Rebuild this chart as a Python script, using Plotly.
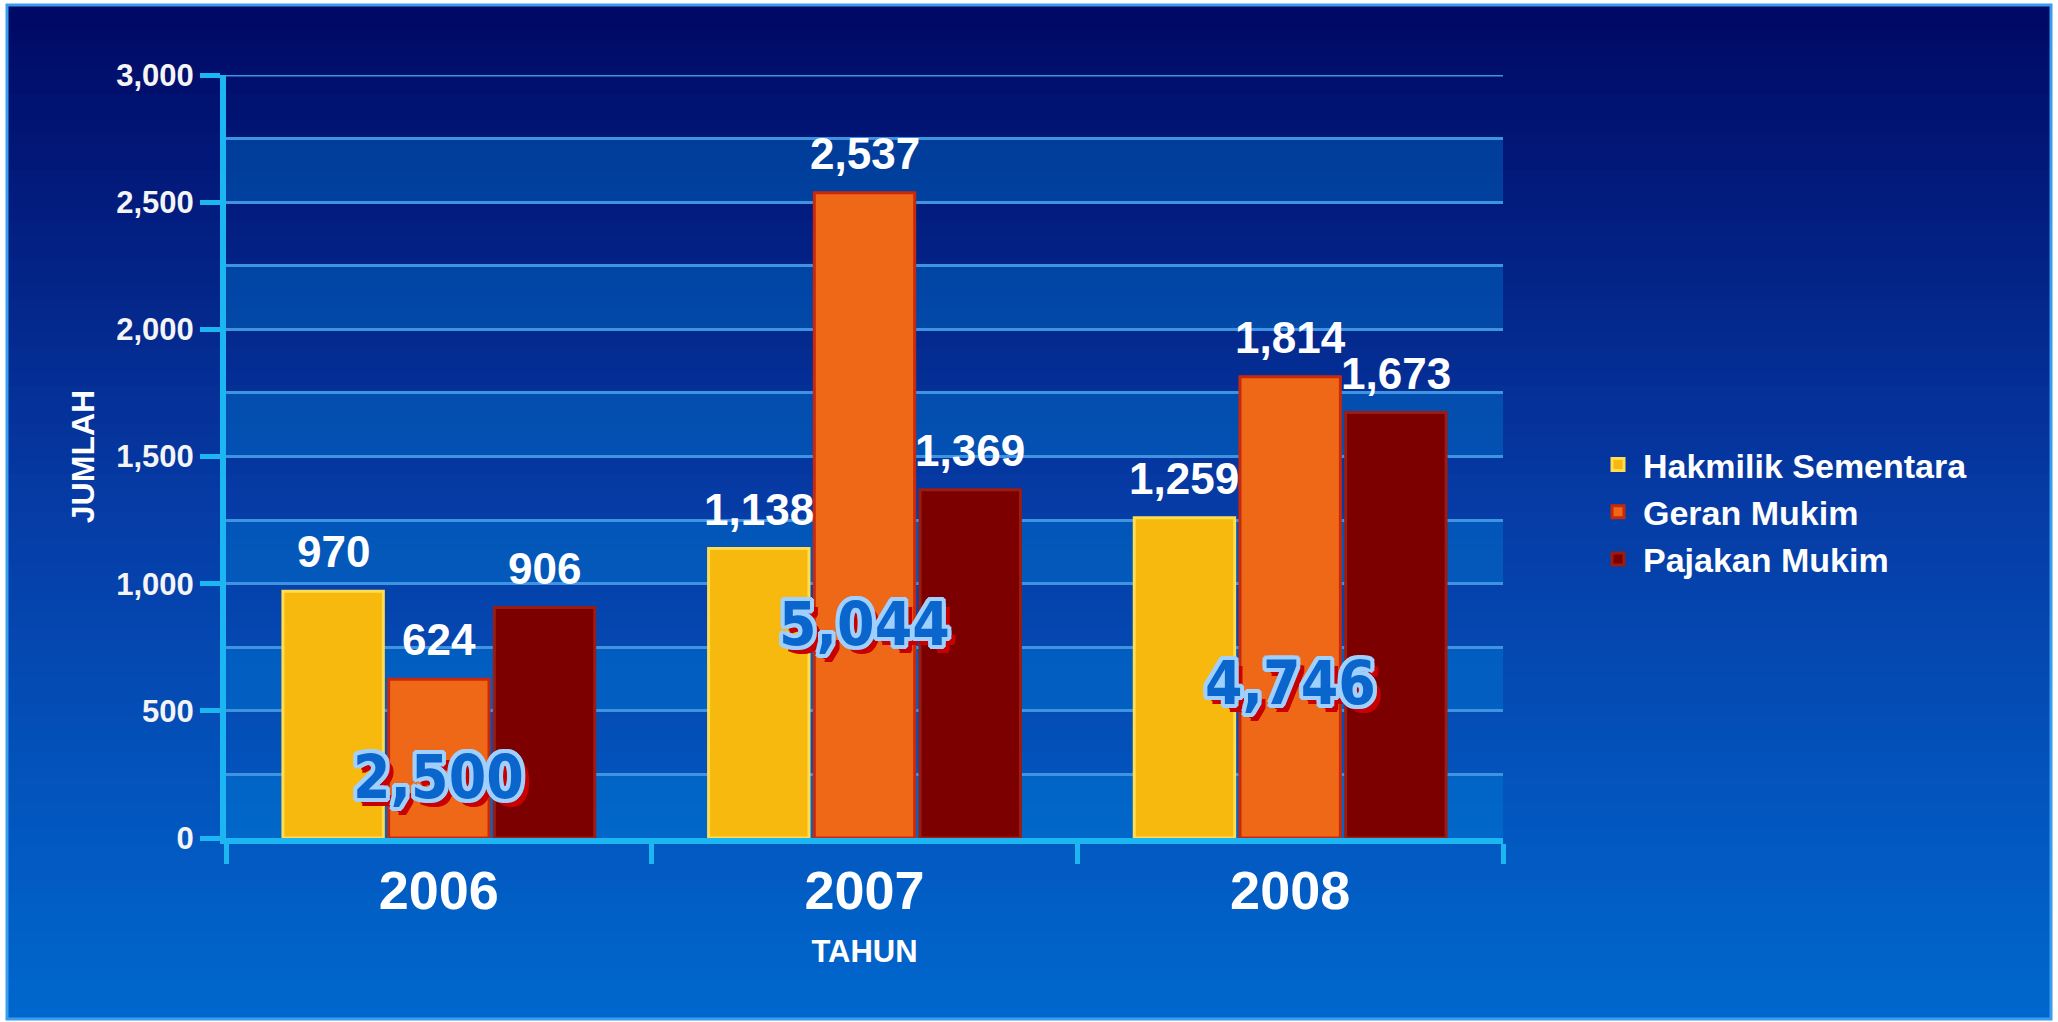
import plotly.graph_objects as go

# ---------------- data ----------------
years = ["2006", "2007", "2008"]
series_names = ["Hakmilik Sementara", "Geran Mukim", "Pajakan Mukim"]
hakmilik_sementara = [970, 1138, 1259]
geran_mukim = [624, 2537, 1814]
pajakan_mukim = [906, 1369, 1673]
y_tick_values = [0, 500, 1000, 1500, 2000, 2500, 3000]
y_axis_title = "JUMLAH"
x_axis_title = "TAHUN"

series_values = [hakmilik_sementara, geran_mukim, pajakan_mukim]
totals = [sum(v) for v in zip(*series_values)]

# ---------------- style / layout ----------------
W, H = 2058, 1022
L, R, T, B = 226, 555, 75, 184
BARGAP, BARGROUPGAP = 0.255, 0.05
fill_colors = ["#f7b90e", "#ee6817", "#7c0000"]
edge_colors = ["#ffdc50", "#c8280c", "#9a1c12"]
FONT = "Arial, Liberation Sans, Helvetica, sans-serif"
NARROW = "Liberation Sans Narrow, Arial Narrow, DejaVu Sans Condensed, sans-serif"
AXIS_COLOR = "#1cb6f2"
GRID_COLOR = "#3f94e2"
total_label_y = [240, 840, 610]   # placement of the big total labels (axis units)


def px_x(px):
    return (px - L) / (W - L - R)


def px_y(py):
    return (H - B - py) / (H - T - B)


def lerp(c1, c2, t):
    return tuple(int(round(a + (b - a) * t)) for a, b in zip(c1, c2))


stops = [(0.0, (0, 8, 100)), (0.5, (6, 60, 166)), (1.0, (0, 104, 206))]


def grad(t):
    for (t0, c0), (t1, c1) in zip(stops[:-1], stops[1:]):
        if t <= t1:
            return lerp(c0, c1, (t - t0) / (t1 - t0))
    return stops[-1][1]


shapes = []
# page background gradient inside the border
top_px, bot_px, left_px, right_px = 5, 1019, 7, 2051
n = 80
for i in range(n):
    y0 = top_px + (bot_px - top_px) * i / n
    y1 = top_px + (bot_px - top_px) * (i + 1) / n + 1
    c = grad((i + 0.5) / n)
    shapes.append(dict(type="rect", xref="paper", yref="paper", layer="below",
                       x0=px_x(left_px), x1=px_x(right_px), y0=px_y(y1), y1=px_y(y0),
                       line=dict(width=0), fillcolor="rgb(%d,%d,%d)" % c))
# alternating lighter bands inside the plot area
for k in range(12):
    lo = 250 * k
    if k % 2 == 0:
        shapes.append(dict(type="rect", xref="x domain", yref="y", layer="below",
                           x0=0, x1=1, y0=lo, y1=lo + 250, line=dict(width=0),
                           fillcolor="rgba(0,130,215,0.36)"))
# top grid line at the upper range edge
shapes.append(dict(type="line", xref="x domain", yref="y", layer="below",
                   x0=0, x1=1, y0=y_tick_values[-1], y1=y_tick_values[-1],
                   line=dict(color=GRID_COLOR, width=3)))
# outer light-blue frame
shapes.append(dict(type="rect", xref="paper", yref="paper", layer="above",
                   x0=px_x(left_px), x1=px_x(right_px), y0=px_y(bot_px), y1=px_y(top_px),
                   line=dict(color="#3a9cec", width=3), fillcolor="rgba(0,0,0,0)"))

fig = go.Figure()
for name, vals, fc, ec in zip(series_names, series_values, fill_colors, edge_colors):
    fig.add_trace(go.Bar(
        x=years, y=vals, name=name,
        marker=dict(color=fc, line=dict(color=ec, width=3)),
        hovertemplate="%{x}: %{y:,}<extra>" + name + "</extra>",
    ))

annotations = []
# value labels above each bar (placed at the bar's own data value)
n_series = len(series_values)
slot = (1 - BARGAP) / n_series
for j, vals in enumerate(series_values):
    offset = (j - (n_series - 1) / 2) * slot
    for idx, v in enumerate(vals):
        annotations.append(dict(
            x=idx + offset, y=v, xref="x", yref="y", text="{:,}".format(v),
            showarrow=False, yanchor="bottom", yshift=13,
            font=dict(family=FONT, size=44, color="#ffffff", weight="bold"),
        ))

outline = "#9fd0ff"
shadow_parts = []
for dx, dy in [(-3, -3), (0, -3), (3, -3), (3, 0), (3, 3), (0, 3), (-3, 3), (-3, 0),
               (-2, -4), (2, -4), (4, -2), (4, 2), (2, 4), (-2, 4), (-4, 2), (-4, -2)]:
    shadow_parts.append("%dpx %dpx 0 %s" % (dx, dy, outline))
for dx, dy in [(4, 5), (6, 6), (7, 8), (5, 8), (8, 6)]:
    shadow_parts.append("%dpx %dpx 0 #c80000" % (dx, dy))
text_shadow = ", ".join(shadow_parts)

for idx, (tot, ly) in enumerate(zip(totals, total_label_y)):
    annotations.append(dict(
        x=idx, y=ly, xref="x", yref="y", text="{:,}".format(tot), showarrow=False,
        font=dict(family=NARROW, size=60, color="#0a66cc", weight="bold", shadow=text_shadow),
    ))

fig.update_layout(
    width=W, height=H,
    margin=dict(l=L, r=R, t=T, b=B, pad=0, autoexpand=False),
    paper_bgcolor="#ffffff",
    plot_bgcolor="rgba(0,0,0,0)",
    barmode="group", bargap=BARGAP, bargroupgap=BARGROUPGAP,
    font=dict(family=FONT, color="#ffffff"),
    shapes=shapes,
    annotations=annotations,
    showlegend=True,
    legend=dict(x=px_x(1593), y=px_y(436), xanchor="left", yanchor="top",
                bgcolor="rgba(0,0,0,0)", borderwidth=0,
                font=dict(family=FONT, size=34, color="#ffffff", weight="bold"),
                tracegroupgap=0, itemwidth=40),
    xaxis=dict(
        type="category", automargin=False, range=[-0.5, len(years) - 0.5],
        showline=True, linecolor=AXIS_COLOR, linewidth=6,
        ticks="outside", tickson="boundaries", ticklen=20, tickwidth=5, tickcolor=AXIS_COLOR,
        tickfont=dict(family=FONT, size=54, color="#ffffff", weight="bold"),
        tickangle=0, ticklabelstandoff=0,
        showgrid=False, zeroline=False,
        title=dict(text=x_axis_title, standoff=24,
                   font=dict(family=FONT, size=31, color="#ffffff", weight="bold")),
    ),
    yaxis=dict(
        range=[0, 3000], tickvals=y_tick_values, tickformat=",", automargin=False,
        showline=True, linecolor=AXIS_COLOR, linewidth=6,
        ticks="outside", ticklen=20, tickwidth=5, tickcolor=AXIS_COLOR,
        tickfont=dict(family=FONT, size=31, color="#f4f4f4", weight="bold"),
        ticklabelstandoff=0,
        showgrid=True, gridcolor=GRID_COLOR, gridwidth=3,
        minor=dict(dtick=250, showgrid=True, gridcolor=GRID_COLOR, gridwidth=3, ticks=""),
        zeroline=False,
        title=dict(text=y_axis_title, standoff=14,
                   font=dict(family=FONT, size=32, color="#ffffff", weight="bold")),
    ),
)

fig.write_html("out.html", post_script="document.body.style.margin='0';",
               config={"displayModeBar": False})
